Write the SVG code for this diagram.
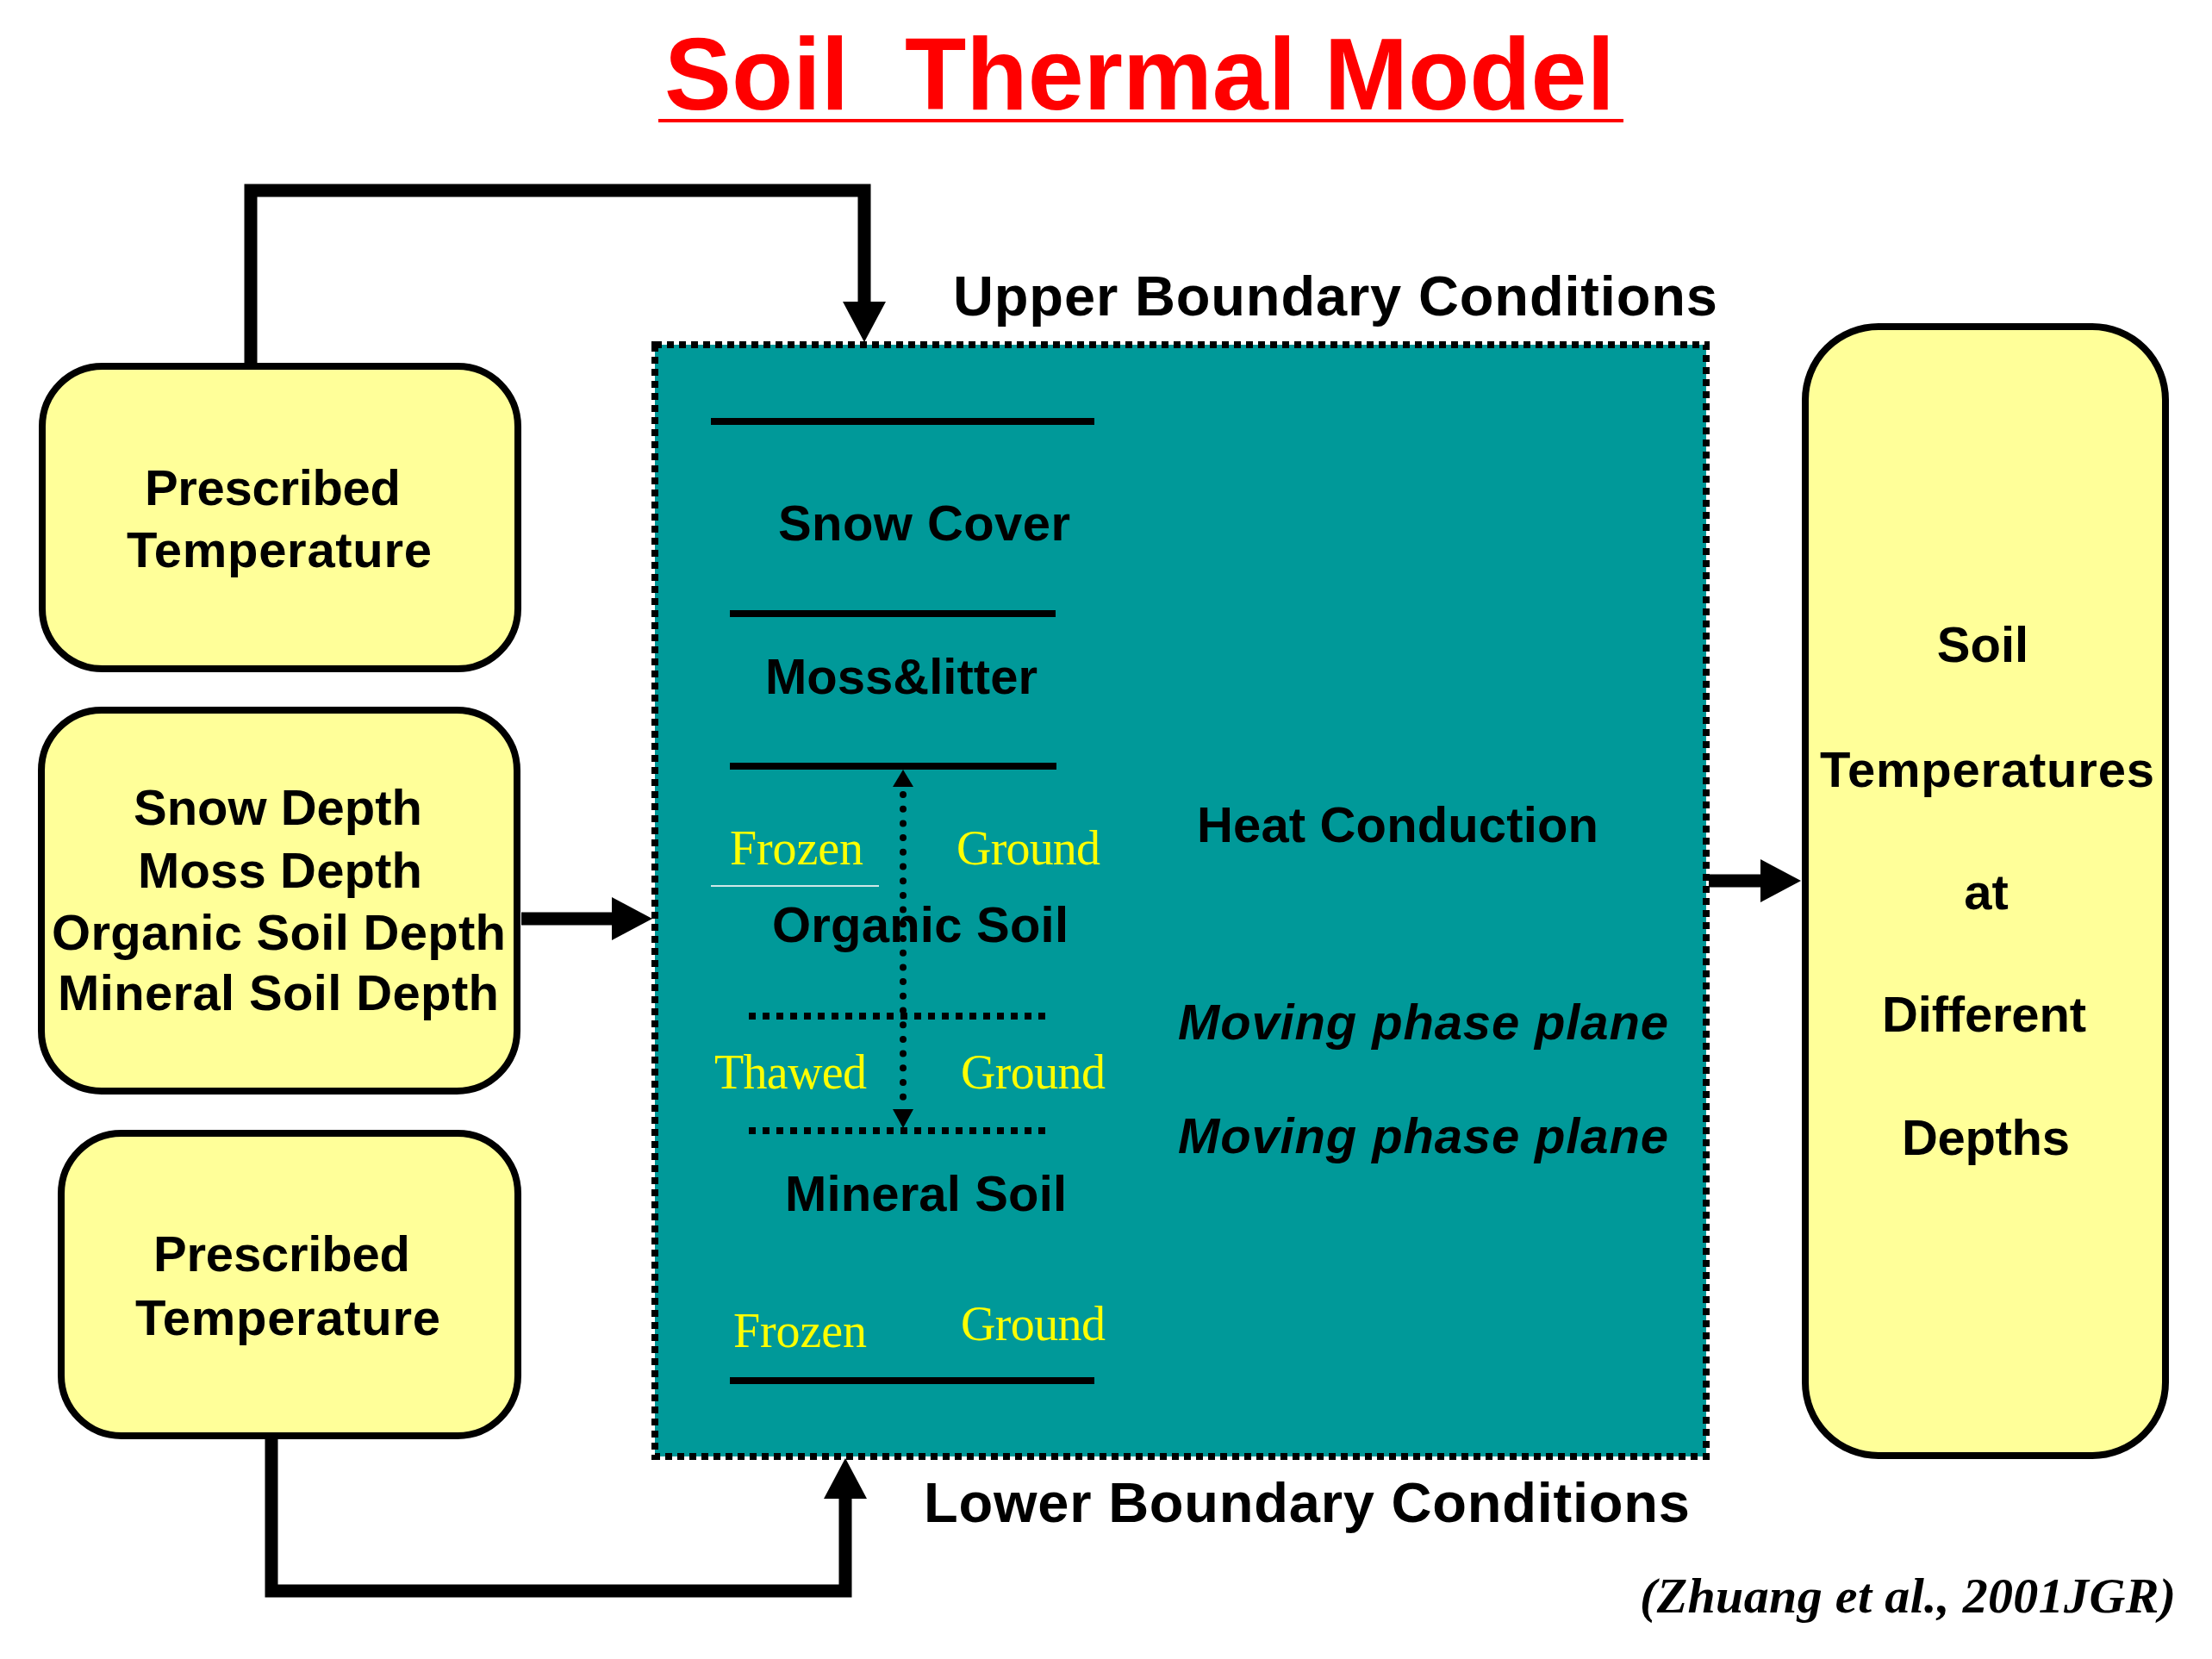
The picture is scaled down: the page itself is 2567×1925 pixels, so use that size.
<svg xmlns="http://www.w3.org/2000/svg" width="2567" height="1925" viewBox="0 0 2567 1925">
<defs>
<style>
.bg{fill:#ffffff}
.box{fill:#FFFF99;stroke:#000;stroke-width:8}
.teal{fill:#009999}
.tealborder{fill:none;stroke:#000;stroke-width:8;stroke-dasharray:8 6}
.lbl{font-family:"Liberation Sans",Arial,sans-serif;font-weight:bold;font-size:58px;fill:#000}
.big{font-size:65px}
.ital{font-style:italic}
.ylw{font-family:"Liberation Serif","Times New Roman",serif;font-size:56px;fill:#FFFF00}
.title{font-family:"Liberation Sans",Arial,sans-serif;font-weight:bold;font-size:119px;fill:#FF0000;white-space:pre}
.cite{font-family:"Liberation Serif","Times New Roman",serif;font-weight:bold;font-style:italic;font-size:58px;fill:#000}
.solid{stroke:#000;stroke-width:8;fill:none}
.dotted{stroke:#000;stroke-width:8;fill:none;stroke-dasharray:8 8}
.dots{stroke:#000;stroke-width:8;fill:none;stroke-linecap:round;stroke-dasharray:0 16.7}
.conn{stroke:#000;stroke-width:15;fill:none;stroke-linejoin:miter}
.head{fill:#000}
</style>
<marker id="arr" markerUnits="userSpaceOnUse" markerWidth="48" markerHeight="50" refX="0" refY="25" orient="auto" overflow="visible">
<path d="M0,0 L47,25 L0,50 z" fill="#000"/>
</marker>
</defs>
<rect class="bg" x="0" y="0" width="2567" height="1925"/>

<g id="title">
<text class="title" x="771" y="127" textLength="1103" lengthAdjust="spacingAndGlyphs">Soil  Thermal Model</text>
<rect x="764" y="138" width="1120" height="4" fill="#FF0000"/>
</g>

<g id="upper-label">
<text class="lbl big" x="1106" y="366" textLength="887">Upper Boundary Conditions</text>
</g>
<g id="lower-label">
<text class="lbl big" x="1072" y="1766" textLength="889">Lower Boundary Conditions</text>
</g>

<g id="box-prescribed-top">
<rect class="box" x="49" y="425" width="552" height="351" rx="70" ry="70"/>
<text class="lbl" x="168" y="586" textLength="297">Prescribed</text>
<text class="lbl" x="147" y="658" textLength="354">Temperature</text>
</g>

<g id="box-depths">
<rect class="box" x="48" y="824" width="552" height="442" rx="70" ry="70"/>
<text class="lbl" x="155" y="957" textLength="335">Snow Depth</text>
<text class="lbl" x="160" y="1030" textLength="330">Moss Depth</text>
<text class="lbl" x="60" y="1102" textLength="527">Organic Soil Depth</text>
<text class="lbl" x="67" y="1172" textLength="512">Mineral Soil Depth</text>
</g>

<g id="box-prescribed-bottom">
<rect class="box" x="71" y="1315" width="530" height="351" rx="70" ry="70"/>
<text class="lbl" x="178" y="1475" textLength="298">Prescribed</text>
<text class="lbl" x="157" y="1549" textLength="354">Temperature</text>
</g>

<g id="soil-model">
<rect class="teal" x="760" y="400" width="1220" height="1290"/>
<rect class="tealborder" x="760" y="400" width="1220" height="1290"/>
<line class="solid" x1="825" y1="489" x2="1270" y2="489"/>
<text class="lbl" x="903" y="627" textLength="339">Snow Cover</text>
<line class="solid" x1="847" y1="712" x2="1225" y2="712"/>
<text class="lbl" x="888" y="805" textLength="316">Moss&amp;litter</text>
<line class="solid" x1="847" y1="889" x2="1226" y2="889"/>
<text class="ylw" x="847" y="1003" textLength="155">Frozen</text>
<text class="ylw" x="1110" y="1003" textLength="167">Ground</text>
<line x1="825" y1="1028" x2="1020" y2="1028" stroke="#CFE8E8" stroke-width="2"/>
<text class="lbl" x="896" y="1093" textLength="344">Organic Soil</text>
<line class="dotted" x1="869" y1="1179" x2="1219" y2="1179"/>
<text class="ylw" x="829" y="1263" textLength="177">Thawed</text>
<text class="ylw" x="1115" y="1263" textLength="168">Ground</text>
<line class="dotted" x1="869" y1="1312" x2="1219" y2="1312"/>
<line class="dots" x1="1048" y1="922" x2="1048" y2="1282"/>
<polygon class="head" points="1048,893 1036,913 1060,913"/>
<polygon class="head" points="1036,1287 1060,1287 1048,1309"/>
<text class="lbl" x="911" y="1405" textLength="327">Mineral Soil</text>
<text class="ylw" x="851" y="1563" textLength="155">Frozen</text>
<text class="ylw" x="1115" y="1555" textLength="168">Ground</text>
<line class="solid" x1="847" y1="1602" x2="1270" y2="1602"/>
<text class="lbl" x="1389" y="977" textLength="466">Heat Conduction</text>
<text class="lbl ital" x="1367" y="1206" textLength="569">Moving phase plane</text>
<text class="lbl ital" x="1367" y="1338" textLength="569">Moving phase plane</text>
</g>

<g id="box-output">
<rect class="box" x="2095" y="379" width="418" height="1310" rx="85" ry="85"/>
<text class="lbl" x="2301" y="768" text-anchor="middle">Soil</text>
<text class="lbl" x="2112" y="913" textLength="388">Temperatures</text>
<text class="lbl" x="2305" y="1055" text-anchor="middle">at</text>
<text class="lbl" x="2184" y="1197" textLength="237">Different</text>
<text class="lbl" x="2207" y="1340" textLength="195">Depths</text>
</g>

<g id="connectors">
<path class="conn" d="M291,425 V221 H1003 V350" marker-end="url(#arr)"/>
<path class="conn" d="M605,1066 H710" stroke-width="17" marker-end="url(#arr)"/>
<path class="conn" d="M1983,1022 H2043" marker-end="url(#arr)"/>
<path class="conn" d="M315,1666 V1846 H981 V1739" marker-end="url(#arr)"/>
</g>

<g id="citation">
<text class="cite" x="1903" y="1871" textLength="622">(Zhuang et al., 2001JGR)</text>
</g>
</svg>
